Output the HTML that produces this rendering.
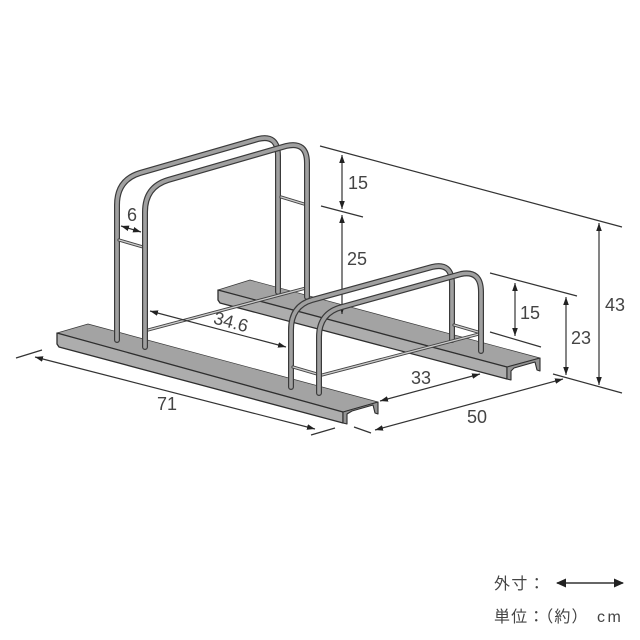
<!DOCTYPE html>
<html lang="ja">
<head>
<meta charset="utf-8">
<title>Bicycle rack dimensions</title>
<style>
html,body{margin:0;padding:0;background:#fff;width:640px;height:640px;overflow:hidden}
svg{display:block;filter:blur(.3px)}
text{font-family:"Liberation Sans","Noto Sans CJK JP",sans-serif;fill:#444;font-size:18px;text-anchor:middle}
.d{stroke:#333;stroke-width:1.2;fill:none}
.a{stroke:#333;stroke-width:1.2;fill:none;marker-start:url(#h);marker-end:url(#h)}
.to{fill:none;stroke:#3a3a3a;stroke-width:6;stroke-linecap:round}
.ti{fill:none;stroke:#a0a0a0;stroke-width:3.6;stroke-linecap:round}
.bo{fill:none;stroke:#444;stroke-width:3.2;stroke-linecap:round}
.bi{fill:none;stroke:#ccc;stroke-width:1.3;stroke-linecap:round}
.top{fill:#a3a3a3;stroke:#3a3a3a;stroke-width:.7;stroke-linejoin:round}
.face{fill:#adadad;stroke:#2e2e2e;stroke-width:1.3;stroke-linejoin:round}
.end{fill:#949494;stroke:#2e2e2e;stroke-width:1.1;stroke-linejoin:round}
</style>
</head>
<body>
<svg width="640" height="640" viewBox="0 0 640 640" xmlns="http://www.w3.org/2000/svg">
<defs>
<marker id="h" viewBox="0 0 8 6" refX="8" refY="3" markerUnits="userSpaceOnUse" markerWidth="8" markerHeight="6" orient="auto-start-reverse">
<path d="M0 0.2L8 3L0 5.8Z" fill="#222"/>
</marker>
</defs>

<!-- dimension ticks -->
<path class="d" d="M320 146L622 227M321 206L363 217M490 273L577 296M490 332L541 347M553 374L622 393M16 358L42 350M311 435L335 428M354 427L371 433"/>

<!-- back plate -->
<polygon class="top" points="218,290 250,280 540,358 507,367"/>
<polygon class="face" points="218,290 507,367 507,379 220,303 218,300"/>
<polygon class="end" points="507,367 540,358 540,371 537,370 535,362 514,368 511,371 511,380 507,379"/>

<!-- front plate -->
<polygon class="top" points="57,333 88,324 378,402 343,412"/>
<polygon class="face" points="57,333 343,412 343,423 59,347 57,344"/>
<polygon class="end" points="343,412 378,402 378,414 375,413 373,405 352,411 347,414 347,424 343,423"/>

<!-- back arches -->
<path class="to" d="M117 340V205Q117 180 140 173L258 139Q278 134 278 156V292"/>
<path class="ti" d="M117 340V205Q117 180 140 173L258 139Q278 134 278 156V292"/>
<path class="bo" d="M119 240L143 247M281 197L304 204"/>
<path class="bi" d="M119 240L143 247M281 197L304 204"/>

<!-- rod between back arches -->
<path class="bo" d="M148 330L306 288"/>
<path class="bi" d="M148 330L306 288"/>

<path class="to" d="M145 347V212Q145 187 168 180L286 146Q307 141 307 163V297"/>
<path class="ti" d="M145 347V212Q145 187 168 180L286 146Q307 141 307 163V297"/>

<!-- dims behind front arches -->
<path class="a" d="M150 311L286 347"/>
<path class="a" d="M121 226L141 232"/>
<path class="a" d="M342 155V209"/>
<path class="a" d="M342 215V314"/>

<!-- second pair of arches -->
<path class="to" d="M452 340V284Q452 262 432 267L312 300Q291 306 291 330V387"/>
<path class="ti" d="M452 340V284Q452 262 432 267L312 300Q291 306 291 330V387"/>
<path class="bo" d="M293 367L317 374M454 325L478 332"/>
<path class="bi" d="M293 367L317 374M454 325L478 332"/>
<path class="bo" d="M322 375L479 334"/>
<path class="bi" d="M322 375L479 334"/>
<path class="to" d="M481 351V292Q481 270 461 274L342 307Q319 313 319 337V393"/>
<path class="ti" d="M481 351V292Q481 270 461 274L342 307Q319 313 319 337V393"/>

<!-- other dims -->
<path class="a" d="M515 283V336"/>
<path class="a" d="M566 297V375"/>
<path class="a" d="M599 223V385"/>
<path class="a" d="M380 401L480 374"/>
<path class="a" d="M375 430L563 379"/>
<path class="a" d="M35 357L315 429"/>

<!-- labels -->
<text x="132" y="221">6</text>
<text x="231" y="328" transform="rotate(15 231 322)">34.6</text>
<text x="358" y="189">15</text>
<text x="357" y="265">25</text>
<text x="530" y="319">15</text>
<text x="581" y="344">23</text>
<text x="615" y="311">43</text>
<text x="421" y="384">33</text>
<text x="477" y="423">50</text>
<text x="167" y="410">71</text>

<!-- legend -->
<text x="494" y="589" style="text-anchor:start;font-size:16px;letter-spacing:1.4px">外寸&#xFF1A;</text>
<path d="M557 583H623" stroke="#333" stroke-width="1.6" fill="none"/>
<path d="M556 583L566 578.5V587.5Z M624 583L614 578.5V587.5Z" fill="#222"/>
<text x="494" y="622" style="text-anchor:start;font-size:16px;letter-spacing:1.1px">単位&#xFF1A;&#xFF08;約&#xFF09;</text>
<text x="597" y="622" style="text-anchor:start;font-size:16px;letter-spacing:2.5px">cm</text>
</svg>
</body>
</html>
